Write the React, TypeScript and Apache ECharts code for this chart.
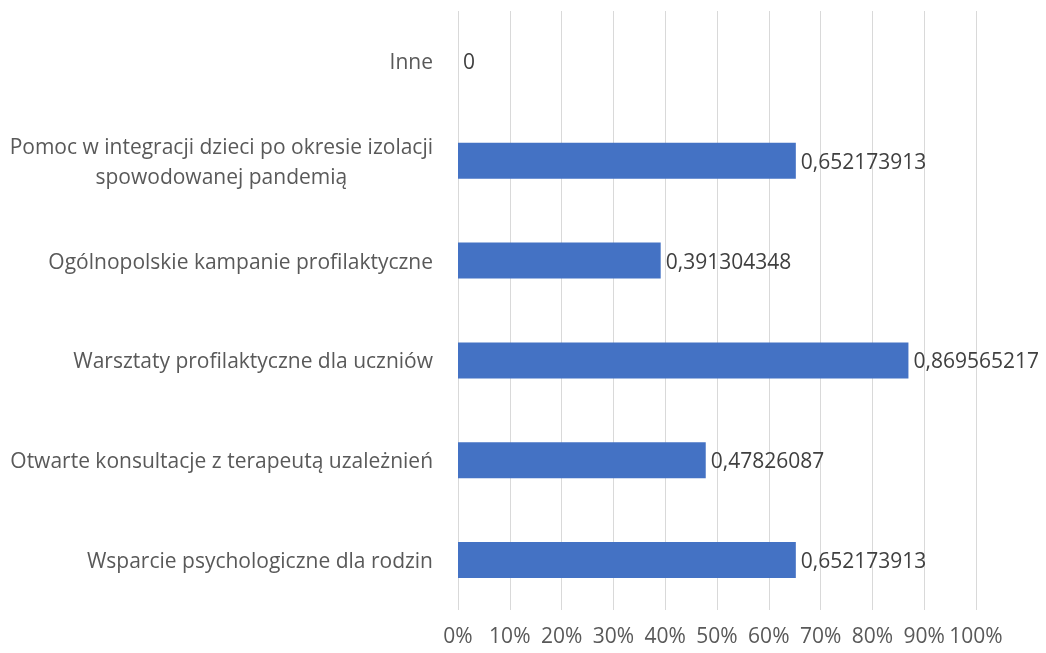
import React, { useEffect, useRef } from "react";
import * as echarts from "echarts";

const categories = [
  "Wsparcie psychologiczne dla rodzin",
  "Otwarte konsultacje z terapeutą uzależnień",
  "Warsztaty profilaktyczne dla uczniów",
  "Ogólnopolskie kampanie profilaktyczne",
  "Pomoc w integracji dzieci po okresie izolacji spowodowanej pandemią",
  "Inne",
];
const values = [0.652173913, 0.47826087, 0.869565217, 0.391304348, 0.652173913, 0];
const tickLabels = ["0%", "10%", "20%", "30%", "40%", "50%", "60%", "70%", "80%", "90%", "100%"];

const FONT = "'Open Sans', sans-serif";
const FS = 21;

export default function App() {
  const ref = useRef<HTMLDivElement>(null);
  useEffect(() => {
    if (!ref.current) return;
    const chart = echarts.init(ref.current, undefined, { renderer: "svg" });
    chart.setOption({
      animation: false,
      grid: { left: 458, right: 70, top: 11, bottom: 43, containLabel: false },
      xAxis: {
        type: "value",
        min: 0,
        max: 1,
        interval: 0.1,
        axisLine: { show: false },
        axisTick: { show: false },
        splitLine: { show: true, lineStyle: { color: "#d9d9d9", width: 1 } },
        axisLabel: {
          color: "#595959",
          fontFamily: FONT,
          fontSize: FS,
          margin: 14,
          formatter: (v: number) => tickLabels[Math.round(v * 10)],
        },
      },
      yAxis: {
        type: "category",
        data: categories,
        axisLine: { show: false },
        axisTick: { show: false },
        axisLabel: {
          color: "#595959",
          fontFamily: FONT,
          fontSize: FS,
          margin: 25,
          lineHeight: 30,
          formatter: (v: string) => {
            const k = "izolacji ";
            const i = v.indexOf(k);
            if (i >= 0) {
              return "{c|" + v.slice(0, i + k.length - 1) + "}\n{c|" + v.slice(i + k.length) + "}";
            }
            return "{c|" + v + "}";
          },
          rich: {
            c: {
              align: "center",
              color: "#595959",
              fontFamily: FONT,
              fontSize: FS,
              lineHeight: 30,
            },
          },
        },
      },
      series: [
        {
          type: "bar",
          data: values,
          barWidth: 36,
          itemStyle: { color: "#4472C4" },
          label: {
            show: true,
            position: "right",
            distance: 5,
            color: "#404040",
            fontFamily: FONT,
            fontSize: FS,
            formatter: (p: any) => String(p.value).replace(".", ","),
          },
        },
      ],
    });
    return () => chart.dispose();
  }, []);
  return (
    <div
      ref={ref}
      style={{ position: "fixed", left: 0, top: 0, width: 1046, height: 653 }}
    />
  );
}
